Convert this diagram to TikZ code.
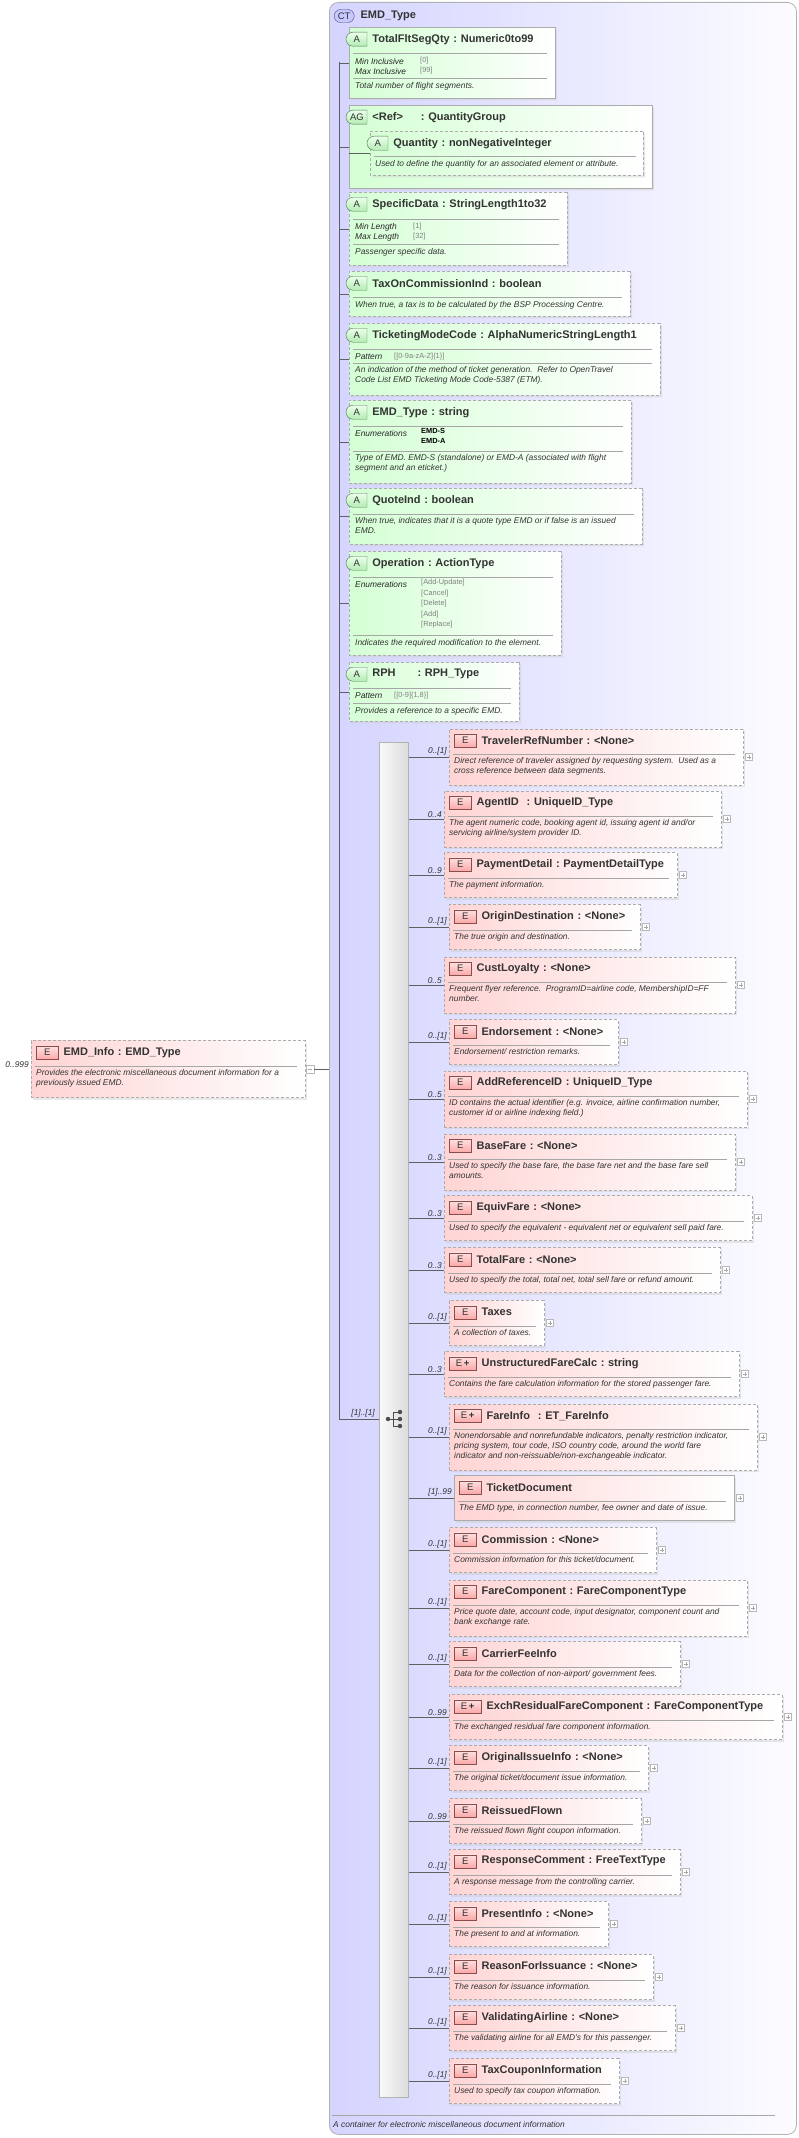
\documentclass[tikz,border=0pt]{standalone}
\usepackage{fontspec}
\setmainfont{Liberation Sans}
\usetikzlibrary{shapes.misc,shadows}
\definecolor{ctl}{RGB}{212,212,255}
\definecolor{ctr}{RGB}{252,252,255}
\definecolor{epink}{RGB}{255,212,212}
\definecolor{agreen}{RGB}{212,255,212}
\definecolor{ebadgef}{RGB}{250,170,170}
\definecolor{abadgef}{RGB}{180,235,180}
\definecolor{ctbadgef}{RGB}{200,200,255}
\tikzset{
 conn/.style={draw=gray!75!black,line width=0.6pt},
 shad/.style={drop shadow={shadow xshift=2pt,shadow yshift=-2pt,fill=black!20,opacity=0.45}},
 ebox/.style={rectangle,draw=gray!65,line width=0.8pt,left color=epink,right color=white,shad,inner sep=0},
 abox/.style={chamfered rectangle,chamfered rectangle corners={north west,south west},chamfered rectangle xsep=6pt,chamfered rectangle ysep=6pt,draw=gray!65,line width=0.8pt,left color=agreen,right color=white,shad,inner sep=0},
 dsh/.style={dash pattern=on 3pt off 2pt},
 sld/.style={solid},
 ebadge/.style={rectangle,draw=red!35!black!70,top color=red!12,bottom color=ebadgef,minimum height=13,inner sep=0,font=\fontsize{9.5}{9.5}\selectfont,text=black!80},
 abadge/.style={rounded rectangle,rounded rectangle right arc=none,draw=green!25!black!70,top color=green!8,bottom color=abadgef,minimum width=21,minimum height=14,inner sep=0,font=\fontsize{9.5}{9.5}\selectfont,text=black!80},
 ctbadge/.style={rounded rectangle,draw=blue!30!black!70,fill=ctbadgef,minimum width=20,minimum height=13,inner sep=0,font=\fontsize{9.5}{9.5}\selectfont,text=black!80},
 etitle/.style={inner sep=0,font=\fontsize{11}{12}\selectfont\bfseries,text=black!80},
 edesc/.style={inner sep=0,align=left,font=\fontsize{8.4}{10}\selectfont\itshape,text=black!80},
 fname/.style={inner sep=0,font=\fontsize{8.4}{10}\selectfont\itshape,text=black!85},
 fval/.style={inner sep=0,align=left,font=\fontsize{7.4}{10.5}\selectfont,text=gray},
 mlabel/.style={inner sep=0,font=\fontsize{8.4}{9}\selectfont\itshape,text=black!80},
 sepl/.style={draw=gray!70,line width=0.6pt},
 plusbox/.style={rectangle,draw=gray!55,fill=white,minimum size=7,inner sep=0,
   path picture={\draw[gray!70] ([xshift=-2.2pt]path picture bounding box.center)--([xshift=2.2pt]path picture bounding box.center)
   ([yshift=-2.2pt]path picture bounding box.center)--([yshift=2.2pt]path picture bounding box.center);}},
 minusbox/.style={rectangle,draw=gray!55,fill=white,minimum size=8,inner sep=0,
   path picture={\draw[gray!70] ([xshift=-2.4pt]path picture bounding box.center)--([xshift=2.4pt]path picture bounding box.center);}},
}
\def\bdg{E}\def\bdgw{22}
% id left right liney halfheight style title desc label
\newcommand{\elem}[9]{%
 \node[ebox,#6,minimum width={#3-#2},minimum height={2*#5},anchor=west] (#1) at (#2,#4) {};
 \node[ebadge,minimum width=\bdgw,anchor=north west] (#1b) at ({#2+5},{#4-#5+5}) {\bdg};
 \node[etitle,anchor=west] (#1t) at ([xshift=5pt]#1b.east) {#7};
 \draw[sepl] ({#2+4},{#4-#5+25.5}) -- ({#3-8},{#4-#5+25.5});
 \node[edesc,anchor=north west] (#1d) at ({#2+5},{#4-#5+28.5}) {#8};
 \node[plusbox] (#1p) at ({#3+6},#4) {};
 \node[mlabel,anchor=south east] (#1l) at ({#2-2},{#4-1.5}) {#9};
 \draw[conn] (seq.east |- #1.west) -- (#1.west);
}
% id left right top bottom style title
\newcommand{\attr}[7]{%
 \node[abox,#6,minimum width={#3-#2},minimum height={#5-#4},anchor=north] (#1) at ({(#2+#3)/2},#4) {};
 \node[abadge,anchor=north west] (#1b) at ({#2+4},{#4+5}) {A};
 \node[etitle,anchor=west] (#1t) at ([xshift=5pt]#1b.east) {#7};
 \draw[conn] (sp0 |- #1.west) -- (#1.west);
}
\newcommand{\hsep}[3]{\draw[sepl] (#1,#3) -- (#2,#3);}
\begin{document}
\begin{tikzpicture}[x=1pt,y=-1pt]
\useasboundingbox (0,0) rectangle (798,2138);
% complex type container
\node[rectangle,rounded corners=9pt,draw=gray!60,line width=0.8pt,left color=ctl,right color=ctr,minimum width=467,minimum height=2132,anchor=north west,inner sep=0] (ct) at (329,2) {};
\node[ctbadge,anchor=west] (ctb) at (334,16) {CT};
\node[etitle,anchor=west] (ctt) at ([xshift=6pt]ctb.east) {EMD\_Type};
\draw[sepl] (332,2115) -- (775,2115);
\node[edesc,anchor=west] (ctd) at (333,2124) {A container for electronic miscellaneous document information};
% spine
\coordinate (sp0) at (339,62);
\coordinate (sp1) at (339,1419);
\draw[conn] (sp0) -- (sp1);
% sequence
\node[rectangle,draw=gray!60,line width=0.8pt,left color=gray!4,right color=gray!28,minimum width=29,minimum height=1355,anchor=north west,inner sep=0] (seq) at (379,742) {};
\draw[conn] (sp1) -- (seq.west |- sp1);
\node[mlabel,anchor=south east] (seql) at (375,1417) {[1]..[1]};
\begin{scope}[draw=black!70,fill=black!70,line width=1pt]
\fill (388,1419) circle (2.2);
\draw (388,1419) -- (393,1419) (393,1412) -- (393,1426) (393,1412) -- (400,1412) (393,1419) -- (400,1419) (393,1426) -- (400,1426);
\fill (400,1412) circle (2.2) (400,1419) circle (2.2) (400,1426) circle (2.2);
\end{scope}
% EMD_Info
\node[ebox,dsh,minimum width=274,minimum height=57,anchor=west] (emd) at (31,1069) {};
\node[ebadge,minimum width=22,anchor=north west] (emdb) at (36,1046) {E};
\node[etitle,anchor=west] (emdt) at ([xshift=5pt]emdb.east) {EMD\_Info\,\,:\,\,EMD\_Type};
\draw[sepl] (35,1066) -- (297,1066);
\node[edesc,anchor=north west] (emdd) at (36,1069) {Provides the electronic miscellaneous document information for a\\previously issued EMD.};
\node[minusbox] (emdm) at (310,1069) {};
\draw[conn] (emdm.east) -- (ct.west |- emdm.east);
\node[mlabel,anchor=south east] (emdl) at (29,1068) {0..999};
% attributes
\attr{a1}{349}{555}{27}{98}{sld}{TotalFltSegQty\,\,:\,\,Numeric0to99}
\hsep{353}{547}{53}
\node[fname,anchor=west] (a1f1) at (355,61) {Min Inclusive};
\node[fname,anchor=west] (a1f2) at (355,71) {Max Inclusive};
\node[fval,anchor=west] (a1v1) at (420,61) {[0]};
\node[fval,anchor=west] (a1v2) at (420,71) {[99]};
\hsep{353}{547}{78}
\node[edesc,anchor=west] (a1d) at (355,86) {Total number of flight segments.};
% attribute group
\node[abox,sld,minimum width=303,minimum height=83,anchor=north] (ag) at (500.5,105) {};
\node[abadge,anchor=north west] (agb) at (353,110) {AG};
\node[etitle,anchor=west] (agt) at ([xshift=5pt]agb.east) {<Ref>\hspace{18pt}:\,\,QuantityGroup};
\draw[conn] (sp0 |- ag.west) -- (ag.west);
\node[abox,dsh,minimum width=273,minimum height=44,anchor=north] (q) at (506.5,131) {};
\draw[conn] (ag.west |- q.west) -- (q.west);
\node[abadge,anchor=north west] (qb) at (374,136) {A};
\node[etitle,anchor=west] (qt) at ([xshift=5pt]qb.east) {Quantity\,\,:\,\,nonNegativeInteger};
\hsep{374}{636}{156}
\node[edesc,anchor=west] (qd) at (375,164) {Used to define the quantity for an associated element or attribute.};
% SpecificData
\attr{a3}{349}{567}{192}{265}{dsh}{SpecificData\,\,:\,\,StringLength1to32}
\hsep{353}{559}{219}
\node[fname,anchor=west] (a3f1) at (355,227) {Min Length};
\node[fname,anchor=west] (a3f2) at (355,237) {Max Length};
\node[fval,anchor=west] (a3v1) at (413,227) {[1]};
\node[fval,anchor=west] (a3v2) at (413,237) {[32]};
\hsep{353}{559}{244}
\node[edesc,anchor=west] (a3d) at (355,252) {Passenger specific data.};
% TaxOnCommissionInd
\attr{a4}{349}{630}{271}{316}{dsh}{TaxOnCommissionInd\,\,:\,\,boolean}
\hsep{353}{622}{297}
\node[edesc,anchor=west] (a4d) at (355,305) {When true, a tax is to be calculated by the BSP Processing Centre.};
% TicketingModeCode
\attr{a5}{349}{660}{323}{395}{dsh}{TicketingModeCode\,\,:\,\,AlphaNumericStringLength1}
\hsep{353}{652}{349}
\node[fname,anchor=west] (a5f1) at (355,357) {Pattern};
\node[fval,anchor=west] (a5v1) at (394,357) {[[0-9a-zA-Z]\{1\}]};
\hsep{353}{652}{363}
\node[edesc,anchor=north west] (a5d) at (355,366) {An indication of the method of ticket generation.\ \ Refer to OpenTravel\\Code List EMD Ticketing Mode Code-5387 (ETM).};
% EMD_Type
\attr{a6}{349}{631}{400}{483}{dsh}{EMD\_Type\,\,:\,\,string}
\hsep{353}{623}{426}
\node[fname,anchor=west] (a6f1) at (355,433) {Enumerations};
\node[fval,anchor=north west,text=black,font=\fontsize{7.4}{10}\selectfont\bfseries] (a6v1) at (421,428) {EMD-S\\EMD-A};
\hsep{353}{623}{451}
\node[edesc,anchor=north west] (a6d) at (355,454) {Type of EMD. EMD-S (standalone) or EMD-A (associated with flight\\segment and an eticket.)};
% QuoteInd
\attr{a7}{349}{642}{488}{544}{dsh}{QuoteInd\,\,:\,\,boolean}
\hsep{353}{634}{514}
\node[edesc,anchor=north west] (a7d) at (355,517) {When true, indicates that it is a quote type EMD or if false is an issued\\EMD.};
% Operation
\attr{a8}{349}{561}{551}{655}{dsh}{Operation\,\,:\,\,ActionType}
\hsep{353}{553}{577}
\node[fname,anchor=west] (a8f1) at (355,584) {Enumerations};
\node[fval,anchor=north west] (a8v1) at (421,579) {{[Add-Update]}\\{[Cancel]}\\{[Delete]}\\{[Add]}\\{[Replace]}};
\hsep{353}{553}{635}
\node[edesc,anchor=west] (a8d) at (355,643) {Indicates the required modification to the element.};
% RPH
\attr{a9}{349}{519}{662}{721}{dsh}{RPH\hspace{22pt}:\,\,RPH\_Type}
\hsep{353}{511}{688}
\node[fname,anchor=west] (a9f1) at (355,696) {Pattern};
\node[fval,anchor=west] (a9v1) at (394,696) {[[0-9]\{1,8\}]};
\hsep{353}{511}{703}
\node[edesc,anchor=west] (a9d) at (355,711) {Provides a reference to a specific EMD.};
% elements
\elem{e1}{449}{743}{757}{28}{dsh}{TravelerRefNumber\,\,:\,\,<None>}{Direct reference of traveler assigned by requesting system.\ \ Used as a\\cross reference between data segments.}{0..[1]}
\elem{e2}{444}{721}{819}{28}{dsh}{AgentID\ \ \,:\,\,UniqueID\_Type}{The agent numeric code, booking agent id, issuing agent id and/or\\servicing airline/system provider ID.}{0..4}
\elem{e3}{444}{677}{875}{22.5}{dsh}{PaymentDetail\,\,:\,\,PaymentDetailType}{The payment information.}{0..9}
\elem{e4}{449}{640}{927}{22.5}{dsh}{OriginDestination\,\,:\,\,<None>}{The true origin and destination.}{0..[1]}
\elem{e5}{444}{735}{985}{28}{dsh}{CustLoyalty\,\,:\,\,<None>}{Frequent flyer reference.\ \ ProgramID=airline code, MembershipID=FF\\number.}{0..5}
\elem{e6}{449}{618}{1042}{22.5}{dsh}{Endorsement\,\,:\,\,<None>}{Endorsement/ restriction remarks.}{0..[1]}
\elem{e7}{444}{747}{1099}{28}{dsh}{AddReferenceID\,\,:\,\,UniqueID\_Type}{ID contains the actual identifier (e.g. invoice, airline confirmation number,\\customer id or airline indexing field.)}{0..5}
\elem{e8}{444}{735}{1162}{28}{dsh}{BaseFare\,\,:\,\,<None>}{Used to specify the base fare, the base fare net and the base fare sell\\amounts.}{0..3}
\elem{e9}{444}{752}{1218}{22.5}{dsh}{EquivFare\,\,:\,\,<None>}{Used to specify the equivalent - equivalent net or equivalent sell paid fare.}{0..3}
\elem{e10}{444}{720}{1270}{22.5}{dsh}{TotalFare\,\,:\,\,<None>}{Used to specify the total, total net, total sell fare or refund amount.}{0..3}
\elem{e11}{449}{544}{1323}{22.5}{dsh}{Taxes}{A collection of taxes.}{0..[1]}
\def\bdg{E\,\textbf{+}}\def\bdgw{27}
\elem{e12}{444}{739}{1374}{22.5}{dsh}{UnstructuredFareCalc\,\,:\,\,string}{Contains the fare calculation information for the stored passenger fare.}{0..3}
\elem{e13}{449}{757}{1437}{33}{dsh}{FareInfo\ \ \,:\,\,ET\_FareInfo}{Nonendorsable and nonrefundable indicators, penalty restriction indicator,\\pricing system, tour code, ISO country code, around the world fare\\indicator and non-reissuable/non-exchangeable indicator.}{0..[1]}
\def\bdg{E}\def\bdgw{22}
\elem{e14}{454}{734}{1498}{22.5}{sld}{TicketDocument}{The EMD type, in connection number, fee owner and date of issue.}{[1]..99}
\elem{e15}{449}{656}{1550}{22.5}{dsh}{Commission\,\,:\,\,<None>}{Commission information for this ticket/document.}{0..[1]}
\elem{e16}{449}{747}{1608}{28}{dsh}{FareComponent\,\,:\,\,FareComponentType}{Price quote date, account code, input designator, component count and\\bank exchange rate.}{0..[1]}
\elem{e17}{449}{680}{1664}{22.5}{dsh}{CarrierFeeInfo}{Data for the collection of non-airport/ government fees.}{0..[1]}
\def\bdg{E\,\textbf{+}}\def\bdgw{27}
\elem{e18}{449}{782}{1717}{22.5}{dsh}{ExchResidualFareComponent\,\,:\,\,FareComponentType}{The exchanged residual fare component information.}{0..99}
\def\bdg{E}\def\bdgw{22}
\elem{e19}{449}{648}{1768}{22.5}{dsh}{OriginalIssueInfo\,\,:\,\,<None>}{The original ticket/document issue information.}{0..[1]}
\elem{e20}{449}{641}{1821}{22.5}{dsh}{ReissuedFlown}{The reissued flown flight coupon information.}{0..99}
\elem{e21}{449}{680}{1872}{22.5}{dsh}{ResponseComment\,\,:\,\,FreeTextType}{A response message from the controlling carrier.}{0..[1]}
\elem{e22}{449}{608}{1924}{22.5}{dsh}{PresentInfo\,\,:\,\,<None>}{The present to and at information.}{0..[1]}
\elem{e23}{449}{653}{1977}{22.5}{dsh}{ReasonForIssuance\,\,:\,\,<None>}{The reason for issuance information.}{0..[1]}
\elem{e24}{449}{675}{2028}{22.5}{dsh}{ValidatingAirline\,\,:\,\,<None>}{The validating airline for all EMD's for this passenger.}{0..[1]}
\elem{e25}{449}{619}{2081}{22.5}{dsh}{TaxCouponInformation}{Used to specify tax coupon information.}{0..[1]}
\end{tikzpicture}
\end{document}
